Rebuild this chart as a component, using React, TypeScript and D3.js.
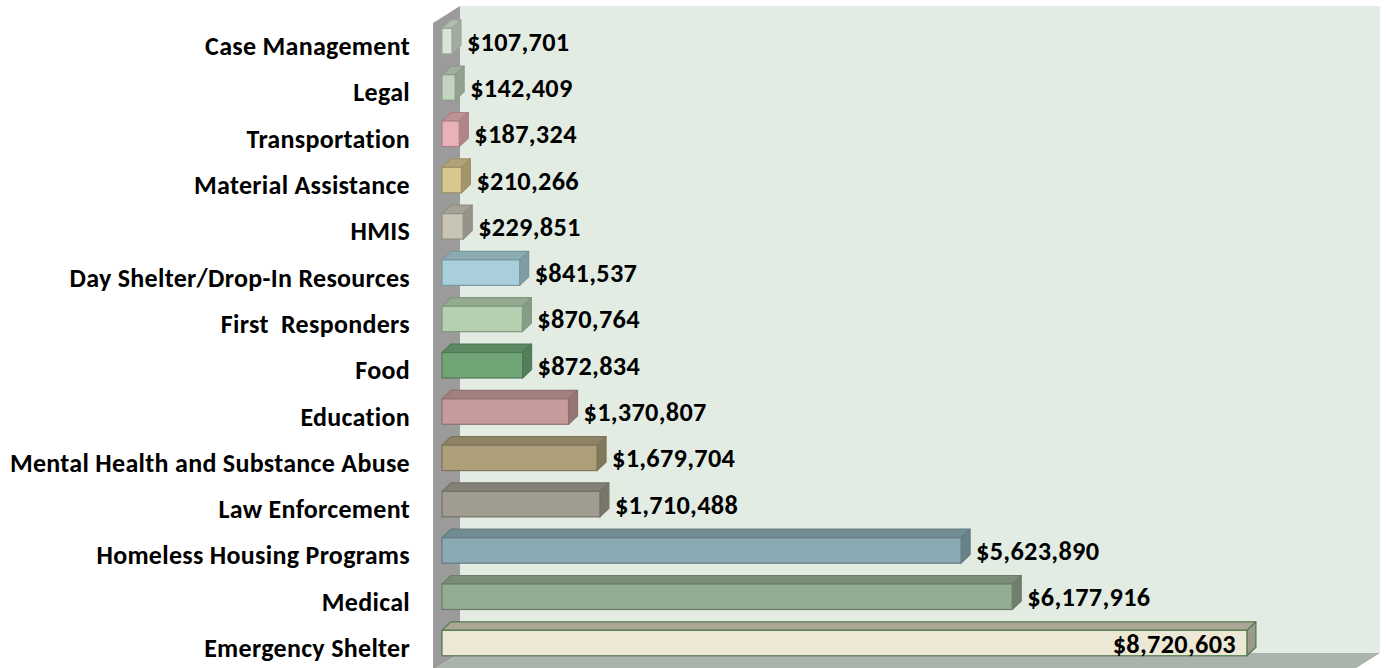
import * as d3 from "d3";
import { useEffect, useRef } from "react";

const categories = [
  "Case Management",
  "Legal",
  "Transportation",
  "Material Assistance",
  "HMIS",
  "Day Shelter/Drop-In Resources",
  "First  Responders",
  "Food",
  "Education",
  "Mental Health and Substance Abuse",
  "Law Enforcement",
  "Homeless Housing Programs",
  "Medical",
  "Emergency Shelter",
];

const amounts = [
  107701, 142409, 187324, 210266, 229851, 841537, 870764, 872834, 1370807,
  1679704, 1710488, 5623890, 6177916, 8720603,
];

// front face colours, one per bar
const barFill = [
  "#d9e5d6", "#c2d6bf", "#e9b2b6", "#d8c890", "#c8c5b5", "#a9d0da", "#b4d0b0",
  "#70a677", "#c69b9b", "#ad9f7a", "#a09d90", "#8aaab3", "#94ac91", "#ede8d5",
];

const FONT = "Calibri, Carlito, Lato, 'Liberation Sans', sans-serif";

export default function App() {
  const svgRef = useRef<SVGSVGElement | null>(null);
  const width = 1386;
  const height = 668;

  useEffect(() => {
    if (!svgRef.current) return;
    const svg = d3.select(svgRef.current);
    svg.selectAll("*").remove();

    const x = d3.scaleLinear().domain([0, 10000000]).range([442, 1365]);
    const y = d3
      .scaleBand<string>()
      .domain(categories)
      .range([18, 18 + categories.length * 46.3]);

    const depthX = 9;
    const depthY = 8.5;
    const barH = y.bandwidth() * 0.55;

    // 3D walls
    const wallX = x(0) - 9;
    const wallDX = 27;
    const wallDY = 17;
    const wallTop = 6;
    const floorBack = 653;
    const wallRight = 1380;

    svg.append("rect")
      .attr("x", wallX + wallDX)
      .attr("y", wallTop)
      .attr("width", wallRight - wallX - wallDX)
      .attr("height", floorBack - wallTop)
      .attr("fill", "#e2ece3");

    svg.append("polygon")
      .attr("points", [
        [wallX, wallTop + wallDY],
        [wallX + wallDX, wallTop],
        [wallX + wallDX, floorBack],
        [wallX, floorBack + wallDY],
      ].map(p => p.join(",")).join(" "))
      .attr("fill", "#9b9b9b");

    svg.append("polygon")
      .attr("points", [
        [wallX, floorBack + wallDY],
        [wallX + wallDX, floorBack],
        [wallRight, floorBack],
        [wallRight - wallDX, floorBack + wallDY],
      ].map(p => p.join(",")).join(" "))
      .attr("fill", "#aab3ac");

    const rows = categories.map((c, i) => ({
      cat: c,
      value: amounts[i],
      fill: barFill[i],
      last: i === categories.length - 1,
    }));

    const g = svg.append("g");

    rows.forEach(d => {
      const x0 = x(0);
      const x1 = x(d.value);
      const cy = (y(d.cat) ?? 0) + y.bandwidth() / 2;
      const y0 = cy - barH / 2;
      const y1 = cy + barH / 2;
      const base = d3.color(d.fill)!;
      const edge = d.last ? "#4f7a4f" : base.darker(0.9).formatHex();
      const topC = d.last ? "#aaa797" : base.darker(0.55).formatHex();
      const sideC = d.last ? "#9c9a8a" : base.darker(0.8).formatHex();

      g.append("polygon")
        .attr("points", [
          [x0, y0], [x0 + depthX, y0 - depthY], [x1 + depthX, y0 - depthY], [x1, y0],
        ].map(p => p.join(",")).join(" "))
        .attr("fill", topC)
        .attr("stroke", edge)
        .attr("stroke-width", 1.2)
        .attr("stroke-linejoin", "round");

      g.append("polygon")
        .attr("points", [
          [x1, y0], [x1 + depthX, y0 - depthY], [x1 + depthX, y1 - depthY], [x1, y1],
        ].map(p => p.join(",")).join(" "))
        .attr("fill", sideC)
        .attr("stroke", edge)
        .attr("stroke-width", 1.2)
        .attr("stroke-linejoin", "round");

      g.append("rect")
        .attr("x", x0)
        .attr("y", y0)
        .attr("width", x1 - x0)
        .attr("height", barH)
        .attr("fill", d.fill)
        .attr("stroke", edge)
        .attr("stroke-width", 1.2);

      const label = "$" + d3.format(",")(d.value);
      const t = g.append("text")
        .attr("x", x1 + depthX + 6)
        .attr("y", cy + 9.5)
        .attr("text-anchor", "start")
        .attr("font-family", FONT)
        .attr("font-weight", "bold")
        .attr("font-size", 26.3)
        .attr("letter-spacing", 0.3)
        .attr("fill", "#000")
        .text(label);
      const w = (t.node() as SVGTextElement).getComputedTextLength();
      if (x1 + depthX + 6 + w > wallRight - 8) {
        t.attr("x", x1 - 11).attr("text-anchor", "end");
      }

      svg.append("text")
        .attr("x", 410)
        .attr("y", cy + 14)
        .attr("text-anchor", "end")
        .attr("font-family", FONT)
        .attr("font-weight", "bold")
        .attr("font-size", 26)
        .attr("letter-spacing", 0.3)
        .attr("fill", "#000")
        .style("white-space", "pre")
        .text(d.cat);
    });
  }, []);

  return (
    <svg
      ref={svgRef}
      width={width}
      height={height}
      style={{ position: "absolute", left: 0, top: 0, background: "#fff" }}
    />
  );
}
